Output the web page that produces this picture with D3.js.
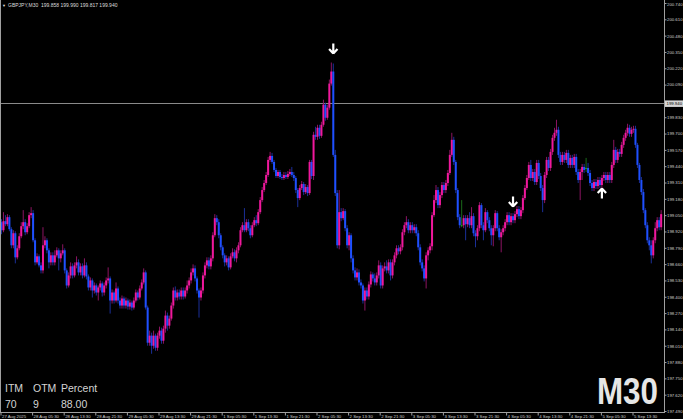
<!DOCTYPE html>
<html><head><meta charset="utf-8"><title>GBPJPY M30</title>
<script src="https://cdn.jsdelivr.net/npm/d3@7/dist/d3.min.js"></script>
<style>html,body{margin:0;padding:0;background:#000;overflow:hidden;}svg{display:block}</style>
</head><body>
<svg id="chart" width="683" height="419"></svg>
<script>
const symbolTitle = "GBPJPY,M30";
const quoteOHLC = ["199.858", "199.990", "199.817", "199.940"];
const currentPrice = 199.940;
const timeframeLabel = "M30";
const statLabels = ["ITM", "OTM", "Percent"];
const statValues = ["70", "9", "88.00"];

const timeTickBars = [0,16,32,48,64,80,96,112,128,144,160,176,192,208,224,240,256,272,288,304,320];
const timeLabels = ["27 Aug 2025","28 Aug 05:30","28 Aug 13:30","28 Aug 21:30","29 Aug 05:30","29 Aug 13:30","29 Aug 21:30","1 Sep 05:30","1 Sep 13:30","1 Sep 21:30","2 Sep 05:30","2 Sep 13:30","2 Sep 21:30","3 Sep 05:30","3 Sep 13:30","3 Sep 21:30","4 Sep 05:30","4 Sep 13:30","4 Sep 21:30","5 Sep 05:30","5 Sep 13:30"];
const priceTicks = [200.740,200.610,200.480,200.350,200.220,200.090,199.960,199.830,199.700,199.570,199.440,199.310,199.180,199.050,198.920,198.790,198.660,198.530,198.400,198.270,198.140,198.010,197.880,197.750,197.620,197.490];

const downSignalBars = [168, 259];
const downSignalPrices = [200.334, 199.115];
const upSignalBars = [304];
const upSignalPrices = [199.266];

const open = [
198.994,198.930,199.002,198.978,199.034,198.938,198.810,198.906,198.714,198.786,
198.882,198.962,198.994,198.914,198.962,199.050,199.066,198.850,198.674,198.722,
198.650,198.610,198.810,198.850,198.770,198.674,198.730,198.674,198.730,198.770,
198.706,198.746,198.770,198.610,198.490,198.570,198.642,198.570,198.650,198.674,
198.594,198.642,198.570,198.650,198.562,198.474,198.530,198.450,198.490,198.434,
198.474,198.506,198.434,198.490,198.530,198.546,198.370,198.434,198.370,198.466,
198.370,198.330,198.386,198.330,198.370,198.322,198.354,198.314,198.370,198.434,
198.394,198.466,198.514,198.594,198.314,198.034,198.090,198.010,198.090,197.994,
198.090,198.130,198.050,198.146,198.250,198.170,198.226,198.330,198.450,198.394,
198.434,198.402,198.450,198.402,198.450,198.490,198.530,198.594,198.626,198.546,
198.450,198.394,198.450,198.570,198.650,198.690,198.642,198.706,198.890,199.026,
198.994,198.890,198.794,198.730,198.674,198.706,198.634,198.722,198.754,198.706,
198.770,198.810,198.930,198.970,198.930,198.994,198.946,198.890,198.970,199.010,
198.986,199.074,199.170,199.250,199.306,199.370,199.490,199.522,199.474,199.410,
199.362,199.394,199.354,199.346,199.370,199.354,199.378,199.394,199.370,199.346,
199.250,199.186,199.266,199.298,199.234,199.274,199.226,199.474,199.362,199.690,
199.674,199.746,199.682,199.770,199.930,199.826,199.906,200.098,200.194,199.530,
199.226,198.810,199.074,199.026,199.082,198.946,198.810,198.890,198.706,198.610,
198.554,198.594,198.514,198.490,198.370,198.450,198.402,198.498,198.578,198.546,
198.514,198.570,198.650,198.490,198.626,198.642,198.610,198.674,198.570,198.674,
198.730,198.786,198.762,198.794,198.914,198.970,198.994,198.930,198.970,198.930,
198.954,198.906,198.794,198.674,198.626,198.546,198.730,198.770,198.802,199.050,
199.170,199.250,199.130,199.210,199.290,199.250,199.306,199.386,199.530,199.650,
199.474,199.250,199.034,198.970,198.970,199.026,198.978,199.026,198.970,199.042,
198.906,198.882,198.946,199.130,198.970,198.930,199.074,199.010,198.946,198.890,
198.946,199.066,198.946,198.874,198.914,198.946,198.994,199.050,198.994,199.042,
199.010,199.058,199.098,199.042,199.090,199.186,199.266,199.346,199.450,199.346,
199.394,199.314,199.466,199.362,199.266,199.170,199.370,199.490,199.426,199.554,
199.666,199.706,199.730,199.530,199.474,199.530,199.490,199.546,199.450,199.506,
199.450,199.514,199.394,199.330,199.394,199.434,199.426,199.426,199.386,199.306,
199.266,199.314,199.282,199.330,199.290,199.346,199.370,199.330,199.370,199.330,
199.450,199.570,199.490,199.554,199.538,199.610,199.666,199.706,199.746,199.698,
199.730,199.738,199.610,199.450,199.330,199.234,199.090,198.970,198.850,198.810,
198.730,198.850,198.946,199.010,198.954];

const high = [
199.018,199.074,199.050,199.058,199.050,198.954,198.930,198.922,198.810,198.906,
198.994,199.090,199.018,198.986,199.074,199.114,199.090,198.866,198.746,198.738,
198.674,198.954,198.882,198.866,198.786,198.754,198.754,198.770,198.794,198.786,
198.770,198.818,198.786,198.626,198.594,198.674,198.666,198.674,198.722,198.698,
198.666,198.666,198.706,198.674,198.578,198.554,198.546,198.514,198.506,198.490,
198.530,198.522,198.514,198.554,198.634,198.562,198.458,198.450,198.514,198.482,
198.394,198.410,198.402,198.394,198.386,198.378,198.370,198.394,198.458,198.450,
198.490,198.538,198.626,198.610,198.330,198.130,198.114,198.130,198.106,198.114,
198.162,198.154,198.170,198.290,198.274,198.250,198.354,198.474,198.482,198.458,
198.458,198.474,198.474,198.474,198.530,198.554,198.626,198.658,198.650,198.562,
198.466,198.474,198.594,198.674,198.714,198.714,198.730,198.914,199.058,199.050,
199.018,198.906,198.810,198.746,198.730,198.722,198.746,198.786,198.778,198.794,
198.834,198.954,198.994,199.106,199.018,199.018,198.970,198.994,199.034,199.050,
199.098,199.194,199.274,199.330,199.394,199.514,199.554,199.546,199.490,199.426,
199.410,199.410,199.378,199.394,199.394,199.402,199.418,199.434,199.394,199.362,
199.266,199.290,199.322,199.314,199.298,199.290,199.490,199.490,199.714,199.754,
199.770,199.770,199.794,199.970,199.946,199.930,200.130,200.266,200.258,199.570,
199.250,199.250,199.106,199.106,199.098,198.970,198.914,198.906,198.730,198.634,
198.626,198.618,198.538,198.506,198.474,198.474,198.522,198.602,198.594,198.586,
198.594,198.690,198.674,198.650,198.674,198.690,198.698,198.698,198.698,198.754,
198.810,198.810,198.818,198.938,198.994,199.042,199.018,198.994,198.994,198.978,
198.978,198.930,198.818,198.698,198.650,198.754,198.794,198.826,199.074,199.210,
199.290,199.274,199.234,199.314,199.314,199.330,199.410,199.570,199.706,199.674,
199.490,199.266,199.058,199.170,199.050,199.050,199.050,199.074,199.114,199.066,
198.930,198.970,199.154,199.146,198.994,199.106,199.090,199.034,198.970,198.970,
199.090,199.082,198.970,198.938,198.970,199.018,199.074,199.074,199.066,199.066,
199.082,199.122,199.122,199.114,199.210,199.290,199.370,199.474,199.490,199.418,
199.418,199.490,199.490,199.386,199.290,199.394,199.514,199.514,199.578,199.690,
199.746,199.810,199.754,199.554,199.554,199.554,199.570,199.570,199.530,199.530,
199.538,199.538,199.418,199.418,199.458,199.458,199.506,199.466,199.410,199.330,
199.338,199.338,199.354,199.354,199.370,199.394,199.394,199.394,199.394,199.474,
199.650,199.594,199.578,199.578,199.634,199.690,199.730,199.778,199.770,199.754,
199.762,199.762,199.626,199.466,199.354,199.258,199.106,198.994,198.874,198.850,
198.874,198.994,199.034,199.034,199.090];

const low = [
198.898,198.914,198.962,198.962,198.922,198.786,198.786,198.666,198.698,198.770,
198.866,198.938,198.890,198.898,198.946,199.026,198.834,198.650,198.658,198.634,
198.586,198.586,198.786,198.746,198.626,198.650,198.650,198.650,198.714,198.610,
198.674,198.730,198.586,198.466,198.474,198.546,198.546,198.554,198.626,198.570,
198.570,198.546,198.554,198.538,198.450,198.450,198.394,198.426,198.410,198.370,
198.450,198.402,198.410,198.466,198.506,198.266,198.346,198.346,198.354,198.346,
198.306,198.306,198.306,198.306,198.298,198.298,198.290,198.298,198.354,198.370,
198.378,198.450,198.498,198.298,198.010,198.010,197.946,197.986,197.970,197.970,
198.066,198.026,198.026,198.114,198.130,198.146,198.210,198.306,198.370,198.370,
198.378,198.378,198.378,198.386,198.426,198.466,198.506,198.570,198.522,198.426,
198.234,198.370,198.426,198.546,198.626,198.618,198.618,198.682,198.874,198.970,
198.866,198.770,198.706,198.642,198.650,198.610,198.618,198.706,198.682,198.674,
198.746,198.794,198.914,198.914,198.914,198.922,198.866,198.874,198.954,198.962,
198.970,199.058,199.154,199.234,199.290,199.354,199.474,199.458,199.394,199.346,
199.346,199.338,199.330,199.330,199.338,199.338,199.362,199.354,199.322,199.226,
199.114,199.170,199.250,199.210,199.218,199.202,199.210,199.338,199.330,199.650,
199.650,199.658,199.666,199.754,199.802,199.810,199.890,200.082,199.514,199.202,
198.786,198.778,199.002,199.010,198.922,198.786,198.770,198.674,198.586,198.530,
198.530,198.490,198.466,198.346,198.290,198.378,198.378,198.474,198.522,198.490,
198.490,198.546,198.466,198.466,198.602,198.586,198.586,198.530,198.546,198.650,
198.706,198.738,198.738,198.770,198.890,198.946,198.906,198.906,198.906,198.906,
198.882,198.770,198.650,198.602,198.522,198.466,198.690,198.746,198.770,199.034,
199.146,199.106,199.106,199.186,199.226,199.226,199.282,199.370,199.514,199.450,
199.226,199.010,198.946,198.954,198.946,198.850,198.954,198.946,198.946,198.882,
198.794,198.850,198.922,198.946,198.850,198.914,198.986,198.922,198.810,198.802,
198.922,198.922,198.850,198.754,198.890,198.922,198.970,198.970,198.970,198.986,
198.986,199.034,199.018,199.018,199.066,199.170,199.250,199.330,199.322,199.322,
199.290,199.290,199.338,199.242,199.074,199.146,199.346,199.402,199.402,199.530,
199.642,199.682,199.506,199.450,199.450,199.466,199.466,199.426,199.426,199.426,
199.426,199.370,199.306,199.170,199.330,199.386,199.394,199.362,199.282,199.242,
199.242,199.258,199.258,199.266,199.266,199.322,199.306,199.306,199.306,199.306,
199.426,199.466,199.466,199.514,199.514,199.586,199.642,199.682,199.674,199.674,
199.706,199.586,199.426,199.306,199.210,199.066,198.946,198.826,198.770,198.666,
198.706,198.826,198.922,198.930,198.930];

const close = [
198.930,199.002,198.978,199.034,198.938,198.810,198.906,198.714,198.786,198.882,
198.962,198.994,198.914,198.962,199.050,199.066,198.850,198.674,198.722,198.650,
198.610,198.810,198.850,198.770,198.674,198.730,198.674,198.730,198.770,198.706,
198.746,198.770,198.610,198.490,198.570,198.642,198.570,198.650,198.674,198.594,
198.642,198.570,198.650,198.562,198.474,198.530,198.450,198.490,198.434,198.474,
198.506,198.434,198.490,198.530,198.546,198.370,198.434,198.370,198.466,198.370,
198.330,198.386,198.330,198.370,198.322,198.354,198.314,198.370,198.434,198.394,
198.466,198.514,198.594,198.314,198.034,198.090,198.010,198.090,197.994,198.090,
198.130,198.050,198.146,198.250,198.170,198.226,198.330,198.450,198.394,198.434,
198.402,198.450,198.402,198.450,198.490,198.530,198.594,198.626,198.546,198.450,
198.394,198.450,198.570,198.650,198.690,198.642,198.706,198.890,199.026,198.994,
198.890,198.794,198.730,198.674,198.706,198.634,198.722,198.754,198.706,198.770,
198.810,198.930,198.970,198.930,198.994,198.946,198.890,198.970,199.010,198.986,
199.074,199.170,199.250,199.306,199.370,199.490,199.522,199.474,199.410,199.362,
199.394,199.354,199.346,199.370,199.354,199.378,199.394,199.370,199.346,199.250,
199.186,199.266,199.298,199.234,199.274,199.226,199.474,199.362,199.690,199.674,
199.746,199.682,199.770,199.930,199.826,199.906,200.098,200.194,199.530,199.226,
198.810,199.074,199.026,199.082,198.946,198.810,198.890,198.706,198.610,198.554,
198.594,198.514,198.490,198.370,198.450,198.402,198.498,198.578,198.546,198.514,
198.570,198.650,198.490,198.626,198.642,198.610,198.674,198.570,198.674,198.730,
198.786,198.762,198.794,198.914,198.970,198.994,198.930,198.970,198.930,198.954,
198.906,198.794,198.674,198.626,198.546,198.730,198.770,198.802,199.050,199.170,
199.250,199.130,199.210,199.290,199.250,199.306,199.386,199.530,199.650,199.474,
199.250,199.034,198.970,198.970,199.026,198.978,199.026,198.970,199.042,198.906,
198.882,198.946,199.130,198.970,198.930,199.074,199.010,198.946,198.890,198.946,
199.066,198.946,198.874,198.914,198.946,198.994,199.050,198.994,199.042,199.010,
199.058,199.098,199.042,199.090,199.186,199.266,199.346,199.450,199.346,199.394,
199.314,199.466,199.362,199.266,199.170,199.370,199.490,199.426,199.554,199.666,
199.706,199.730,199.530,199.474,199.530,199.490,199.546,199.450,199.506,199.450,
199.514,199.394,199.330,199.394,199.434,199.410,199.426,199.386,199.306,199.266,
199.314,199.282,199.330,199.290,199.346,199.370,199.330,199.370,199.330,199.450,
199.570,199.490,199.554,199.538,199.610,199.666,199.706,199.746,199.698,199.730,
199.738,199.610,199.450,199.330,199.234,199.090,198.970,198.850,198.810,198.730,
198.850,198.946,199.010,198.954,199.058];

// ---------- drawing ----------
const W = 683, H = 419;
const plotRight = 664, plotBottom = 412;
const colors = {
  up: "#f0189c", down: "#1f50ff", doji: "#22a022",
  upWick: "#8c1462", downWick: "#1a2f98", dojiWick: "#1a6a1a",
  axis: "#a0a0a0", text: "#cfcfcf"
};
const FONT = "'Liberation Sans', Arial, sans-serif";
const SMALL = 4.3;

const bars = close.map((c, i) => ({ i, o: open[i], h: high[i], l: low[i], c }));

const x = d3.scaleLinear().domain([0, bars.length - 1]).range([1.5, 1.5 + 1.975 * (bars.length - 1)]);
const y = d3.scaleLinear().domain([d3.min(priceTicks), d3.max(priceTicks)]).range([411, 3]);

const svg = d3.select("#chart");
svg.append("rect").attr("width", W).attr("height", H).attr("fill", "#000");

// current price line
svg.append("line")
  .attr("x1", 0).attr("x2", plotRight)
  .attr("y1", Math.round(y(currentPrice)) + 0.5).attr("y2", Math.round(y(currentPrice)) + 0.5)
  .attr("stroke", "#8a8a8a").attr("stroke-width", 1);

// candles
const g = svg.append("g");
const kind = d => d.c > d.o ? "up" : (d.c < d.o ? "down" : "doji");
g.selectAll("line.wick").data(bars).join("line")
  .attr("class", "wick")
  .attr("x1", d => x(d.i)).attr("x2", d => x(d.i))
  .attr("y1", d => y(d.h)).attr("y2", d => y(d.l))
  .attr("stroke", d => colors[kind(d) + "Wick"]).attr("stroke-width", 1);
g.selectAll("rect.body").data(bars).join("rect")
  .attr("class", "body")
  .attr("x", d => x(d.i) - 1).attr("width", 2)
  .attr("y", d => y(Math.max(d.o, d.c)))
  .attr("height", d => Math.max(1, Math.abs(y(d.o) - y(d.c))))
  .attr("fill", d => colors[kind(d)]);

// signal arrows
const downPath = "M0,-0.5 L-4.2,-5 M0,-0.5 L4.2,-5 M0,0 L0,-10.5";
const upPath = "M0,0.5 L-4.2,5 M0,0.5 L4.2,5 M0,0 L0,10.5";
downSignalBars.forEach((b, k) => {
  svg.append("path").attr("d", downPath)
    .attr("transform", `translate(${x(b)},${y(downSignalPrices[k])})`)
    .attr("stroke", "#fff").attr("stroke-width", 2.2).attr("fill", "none");
});
upSignalBars.forEach((b, k) => {
  svg.append("path").attr("d", upPath)
    .attr("transform", `translate(${x(b)},${y(upSignalPrices[k])})`)
    .attr("stroke", "#fff").attr("stroke-width", 2.2).attr("fill", "none");
});

// frame
svg.append("line").attr("x1", 0.5).attr("x2", 0.5).attr("y1", 0).attr("y2", plotBottom).attr("stroke", colors.axis);
svg.append("line").attr("x1", plotRight + 0.5).attr("x2", plotRight + 0.5).attr("y1", 0).attr("y2", plotBottom + 1).attr("stroke", colors.axis);
svg.append("line").attr("x1", 0).attr("x2", plotRight + 1).attr("y1", plotBottom + 0.5).attr("y2", plotBottom + 0.5).attr("stroke", colors.axis);

// price axis
const shownTicks = priceTicks.filter(p => Math.abs(y(p) - y(currentPrice)) > 6);
const yAxis = svg.append("g").attr("transform", `translate(${plotRight + 0.5},0)`)
  .call(d3.axisRight(y).tickValues(shownTicks).tickSize(2).tickPadding(0.5).tickFormat(d3.format(".3f")));
yAxis.select(".domain").remove();
yAxis.selectAll(".tick line").attr("stroke", colors.axis);
yAxis.selectAll(".tick text").attr("fill", colors.text).attr("font-size", SMALL).attr("font-family", FONT);
yAxis.selectAll(".tick").filter(d => y(d) < 4).select("text").attr("dy", "0.6em");

// current price tag
const cy = y(currentPrice);
svg.append("rect").attr("x", plotRight + 1).attr("y", cy - 3).attr("width", W - plotRight - 1).attr("height", 6.5).attr("fill", "#d6d6d6");
svg.append("text").attr("x", plotRight + 2.5).attr("y", cy).attr("dy", "0.35em")
  .attr("font-size", SMALL).attr("font-family", FONT).attr("fill", "#000").text(currentPrice.toFixed(3));

// time axis
const xAxis = svg.append("g").attr("transform", `translate(0,${plotBottom + 0.5})`)
  .call(d3.axisBottom(x).tickValues(timeTickBars).tickSize(3).tickFormat((d, i) => timeLabels[i]));
xAxis.select(".domain").remove();
xAxis.selectAll(".tick line").attr("stroke", colors.axis).attr("transform", "translate(-1,0)");
xAxis.selectAll(".tick text").attr("fill", colors.text).attr("font-size", SMALL).attr("font-family", FONT)
  .attr("text-anchor", "start").attr("x", 0).attr("y", 2.5).attr("dy", "0.71em");

// title
svg.append("text").attr("x", 2).attr("y", 7).attr("font-size", 4).attr("fill", "#ddd").attr("font-family", FONT).text("\u25BC");
svg.append("text").attr("x", 8).attr("y", 7).attr("font-size", 5).attr("fill", "#ddd").attr("font-family", FONT)
  .attr("xml:space", "preserve").text(symbolTitle + "  " + quoteOHLC.join(" "));

// stats block
const statX = [5, 33, 61];
statLabels.forEach((t, k) => {
  svg.append("text").attr("x", statX[k]).attr("y", 392).attr("font-size", 10.5).attr("font-family", FONT).attr("fill", "#d4d4d4").text(t);
  svg.append("text").attr("x", statX[k]).attr("y", 408).attr("font-size", 10.5).attr("font-family", FONT).attr("fill", "#d4d4d4").text(statValues[k]);
});

// timeframe watermark
svg.append("text").attr("x", 658).attr("y", 404).attr("text-anchor", "end")
  .attr("font-size", 36).attr("font-weight", "bold").attr("font-family", FONT)
  .attr("fill", "#e6e6e6").attr("textLength", 61).attr("lengthAdjust", "spacingAndGlyphs")
  .text(timeframeLabel);
</script>
</body></html>
